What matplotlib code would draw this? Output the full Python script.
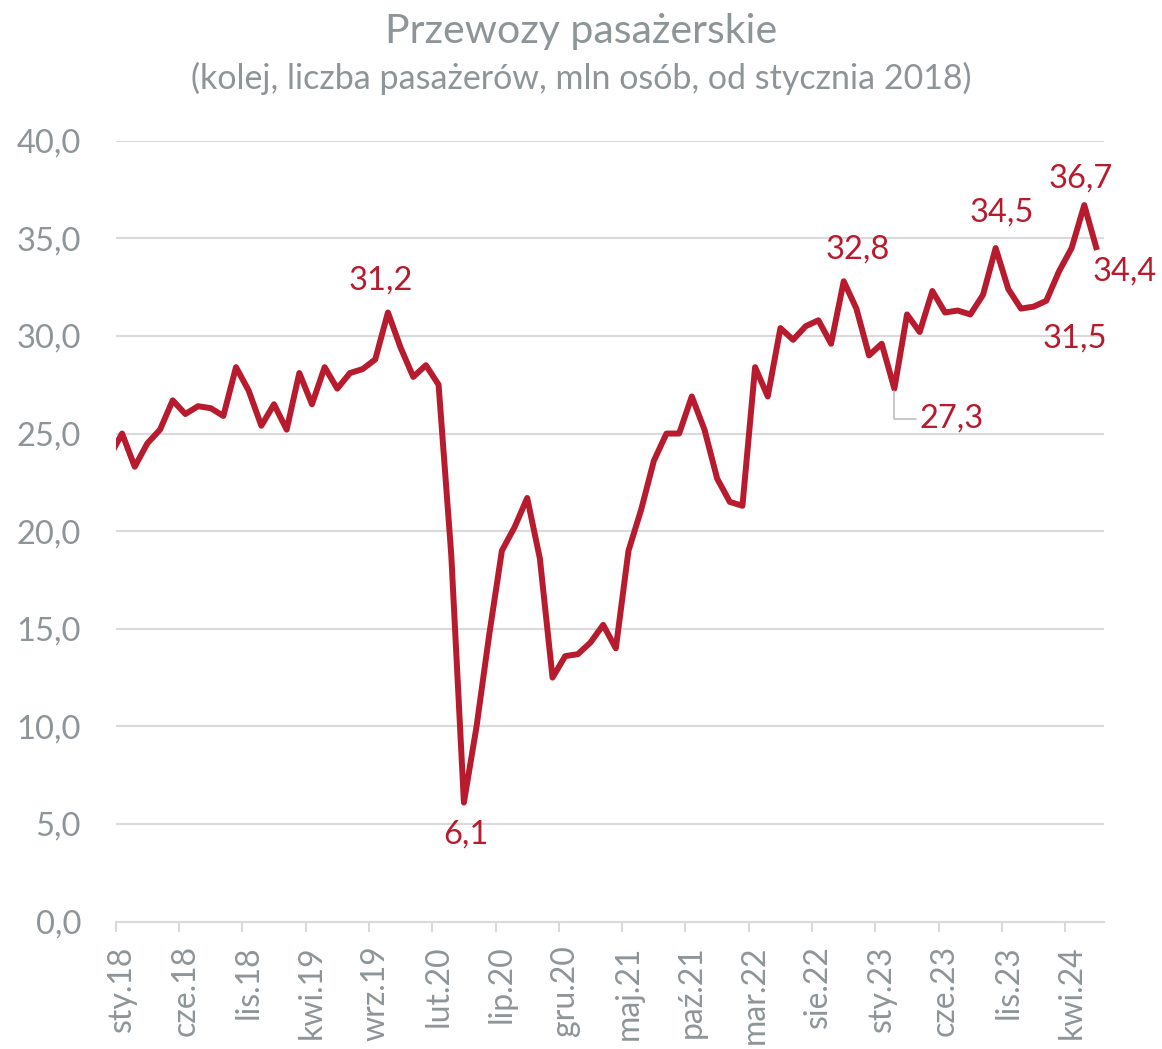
# Przewozy pasażerskie - kolej, mln osób
import matplotlib.pyplot as plt
import numpy as np

plt.rcParams['font.family'] = ['Lato', 'DejaVu Sans']

# dane miesięczne, od grudnia 2017 (pierwszy punkt jest ucięty przez oś) do czerwca 2024
przewozy = [23.8,
            25.0, 23.3, 24.5, 25.2, 26.7, 26.0, 26.4, 26.3, 25.9, 28.4, 27.2, 25.4,
            26.5, 25.2, 28.1, 26.5, 28.4, 27.3, 28.1, 28.3, 28.8, 31.2, 29.4, 27.9,
            28.5, 27.5, 18.8, 6.1, 10.0, 14.7, 19.0, 20.2, 21.7, 18.6, 12.5, 13.6,
            13.7, 14.3, 15.2, 14.0, 19.0, 21.1, 23.6, 25.0, 25.0, 26.9, 25.2, 22.7,
            21.5, 21.3, 28.4, 26.9, 30.4, 29.8, 30.5, 30.8, 29.6, 32.8, 31.4, 29.0,
            29.6, 27.3, 31.1, 30.2, 32.3, 31.2, 31.3, 31.1, 32.1, 34.5, 32.4, 31.4,
            31.5, 31.8, 33.3, 34.5, 36.7, 34.4]
miesiace = np.arange(-1, len(przewozy) - 1)

etykiety_x = ['sty.18', 'cze.18', 'lis.18', 'kwi.19', 'wrz.19', 'lut.20', 'lip.20', 'gru.20',
              'maj.21', 'paź.21', 'mar.22', 'sie.22', 'sty.23', 'cze.23', 'lis.23', 'kwi.24']
wartosci_y = [0, 5, 10, 15, 20, 25, 30, 35, 40]

# etykiety danych: indeks miesiąca (0 = sty.18) i przesunięcie tekstu w pikselach
etykiety_danych = [(21, -7, 32), (27, 2, -32), (57, 14, 32), (61, 57, -30),
                   (69, 6, 36), (72, 41, -32), (76, -4, 27), (77, 28, -22)]

czerwony = '#B81B2D'
szary = '#8E9598'
siatka = '#DADADA'

fig = plt.figure(figsize=(11.62, 10.49), dpi=100)
ax = fig.add_axes([0.0996, 0.1214, 0.8504, 0.7445])

ax.plot(miesiace, przewozy, color=czerwony, lw=4.3, solid_joinstyle='round',
        solid_capstyle='butt', zorder=3)

ax.set_xlim(-0.5, 77.55)
ax.set_ylim(0, 40)

ax.set_yticks(wartosci_y)
ax.set_yticklabels([f'{v:.1f}'.replace('.', ',') for v in wartosci_y])
ax.set_xticks(np.arange(0, 78, 5))
ax.set_xticklabels(etykiety_x, rotation=90)
ax.set_xticks(np.arange(-0.5, 78, 5), minor=True)

ax.tick_params(axis='y', length=0, pad=25, labelsize=23.5, labelcolor=szary)
ax.tick_params(axis='x', which='major', length=0, pad=17, labelsize=23, labelcolor=szary)
ax.tick_params(axis='x', which='minor', length=7.5, width=1.5, color=siatka)

ax.yaxis.grid(True, color=siatka, lw=1.5)
ax.set_axisbelow(True)
for s in ['left', 'right', 'top']:
    ax.spines[s].set_visible(False)
ax.spines['bottom'].set_color(siatka)
ax.spines['bottom'].set_linewidth(1.5)

for i, dx, dy in etykiety_danych:
    v = przewozy[i + 1]
    tekst = f'{v:.1f}'.replace('.', ',')
    if i == 61:
        ax.annotate(tekst, xy=(i, v), xytext=(dx * 0.72, dy * 0.72), textcoords='offset points',
                    ha='center', va='center', fontsize=23.5, color=czerwony,
                    arrowprops=dict(arrowstyle='-', color='#BFBFBF', lw=1.2, relpos=(0, 0.5),
                                    connectionstyle='angle,angleA=0,angleB=90,rad=0',
                                    shrinkA=0, shrinkB=2))
    else:
        ax.annotate(tekst, xy=(i, v), xytext=(dx * 0.72, dy * 0.72), textcoords='offset points',
                    ha='center', va='center', fontsize=23.5, color=czerwony)

fig.text(0.5, 1 - 32 / 1049, 'Przewozy pasażerskie', ha='center', va='center',
         fontsize=29.5, color=szary)
fig.text(0.5, 1 - 78 / 1049, '(kolej, liczba pasażerów, mln osób, od stycznia 2018)',
         ha='center', va='center', fontsize=24.5, color=szary)

plt.savefig('out.png', dpi=100)
